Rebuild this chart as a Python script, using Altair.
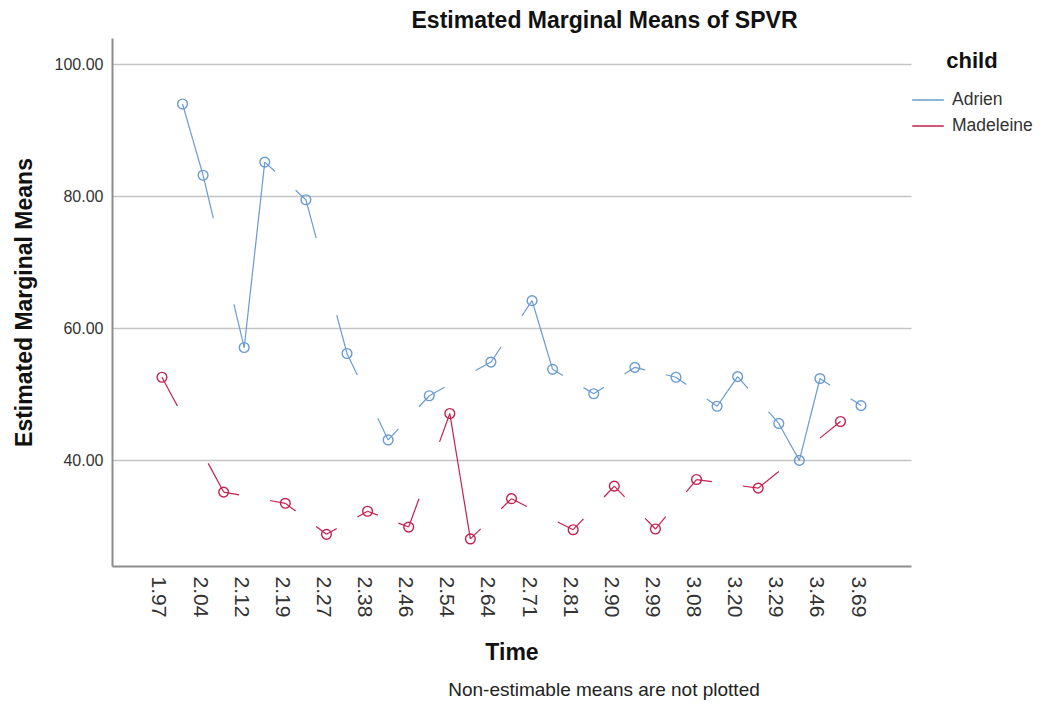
import altair as alt
import pandas as pd

FONT = "Liberation Sans"

# x categories (unlabelled odd positions lie between the labelled ones)
time_labels = ["1.97", "2.04", "2.12", "2.19", "2.27", "2.38", "2.46", "2.54", "2.64",
               "2.71", "2.81", "2.90", "2.99", "3.08", "3.20", "3.29", "3.46", "3.69"]
label_positions = [0, 2, 4, 6, 8, 10, 12, 14, 16, 18, 20, 22, 24, 26, 28, 30, 32, 34]

children = ["Adrien", "Madeleine"]
child_colors = ["#6a9bd1", "#c4214f"]

adrien_pos = [1, 2, 4, 5, 7, 9, 11, 13, 16, 18, 19, 21, 23, 25, 27, 28, 30, 31, 32, 34]
adrien_val = [94.0, 83.2, 57.1, 85.2, 79.5, 56.2, 43.1, 49.8, 54.9, 64.2,
              53.8, 50.1, 54.1, 52.6, 48.2, 52.7, 45.6, 40.0, 52.4, 48.3]

madeleine_pos = [0, 3, 6, 8, 10, 12, 14, 15, 17, 20, 22, 24, 26, 29, 33]
madeleine_val = [52.6, 35.2, 33.5, 28.8, 32.3, 29.9, 47.1, 28.1, 34.2, 29.5,
                 36.1, 29.6, 37.1, 35.8, 45.9]

y_ticks = [40, 60, 80, 100]
footnote = "Non-estimable means are not plotted"

rows = [{"child": "Adrien", "pos": p, "value": v} for p, v in zip(adrien_pos, adrien_val)]
rows += [{"child": "Madeleine", "pos": p, "value": v} for p, v in zip(madeleine_pos, madeleine_val)]
df = pd.DataFrame(rows)

label_expr = "[" + ",".join("'%s'" % t for t in time_labels) + "][datum.value / 2]"

x_scale = alt.Scale(domain=[-2.43, 36.43], nice=False, zero=False)
y_scale = alt.Scale(domain=[24, 104], nice=False, zero=False)
color_scale = alt.Scale(domain=children, range=child_colors)

x_axis = alt.Axis(values=label_positions, labelExpr=label_expr, labelAngle=90,
                  labelFontSize=21, labelPadding=10, labelColor="#333", labelFont=FONT,
                  labelOffset=-4,
                  ticks=False, grid=False, domainColor="#8c8c8c", domainWidth=2,
                  title="Time", titleFontSize=23, titleFontWeight="bold", titleFont=FONT,
                  titleColor="#111", titlePadding=25)
y_axis = alt.Axis(values=y_ticks, format=".2f", labelFontSize=16, labelPadding=9,
                  labelColor="#333", labelFont=FONT, ticks=False, grid=True,
                  gridColor="#c4c4c4", gridWidth=1.6, domainColor="#8c8c8c", domainWidth=2,
                  title="Estimated Marginal Means", titleFontSize=23, titleFontWeight="bold",
                  titleFont=FONT, titleColor="#111", titlePadding=18)

legend = alt.Legend(title="child", orient="none", legendX=799, legendY=13, padding=0,
                    symbolType="stroke", symbolSize=1000, symbolStrokeWidth=1.5,
                    labelFontSize=17.5, labelFont=FONT, labelColor="#333", labelOffset=7,
                    titleFontSize=22, titleFont=FONT, titleFontWeight="bold",
                    titleColor="#111", titleAnchor="middle", titlePadding=10, rowPadding=0)

base = alt.Chart(df)

seg = base.transform_window(
    next_pos="lead(pos)", next_val="lead(value)",
    groupby=["child"], sort=[alt.SortField("pos")]
).transform_filter(
    "isValid(datum.next_pos)"
).transform_calculate(
    f="(datum.next_pos - datum.pos) == 1 ? 0.5 : 0.25"
).transform_calculate(
    xa2="datum.pos + datum.f * (datum.next_pos - datum.pos)",
    ya2="datum.value + datum.f * (datum.next_val - datum.value)",
    xb="datum.next_pos - datum.f * (datum.next_pos - datum.pos)",
    yb="datum.next_val - datum.f * (datum.next_val - datum.value)",
)

color_enc = alt.Color("child:N", scale=color_scale, legend=legend)

seg_a = seg.mark_rule(strokeWidth=1.2).encode(
    x=alt.X("pos:Q", scale=x_scale, axis=x_axis),
    y=alt.Y("value:Q", scale=y_scale, axis=y_axis),
    x2="xa2:Q", y2="ya2:Q",
    color=color_enc,
)
seg_b = seg.mark_rule(strokeWidth=1.2).encode(
    x=alt.X("xb:Q", scale=x_scale),
    y=alt.Y("yb:Q", scale=y_scale),
    x2="next_pos:Q", y2="next_val:Q",
    color=color_enc,
)
pts = base.mark_point(shape="circle", filled=False, size=95, strokeWidth=1.4, opacity=1).encode(
    x=alt.X("pos:Q", scale=x_scale),
    y=alt.Y("value:Q", scale=y_scale),
    color=color_enc,
)
note = alt.Chart(pd.DataFrame({"note": [footnote]})).mark_text(
    fontSize=19, font=FONT, color="#222", align="center", baseline="alphabetic"
).encode(text="note:N", x=alt.value(492), y=alt.value(658))

chart = alt.layer(seg_a, seg_b, pts, note).properties(
    width=799, height=528,
    title=alt.TitleParams("Estimated Marginal Means of SPVR", fontSize=23, fontWeight="bold",
                          font=FONT, color="#111", anchor="middle", dx=93, offset=5),
    autosize=alt.AutoSizeParams(type="none"),
    padding={"left": 104, "top": 30, "right": 123, "bottom": 137},
).configure_view(stroke=None)

chart.save("out.html", embed_options={"renderer": "svg", "actions": False})
